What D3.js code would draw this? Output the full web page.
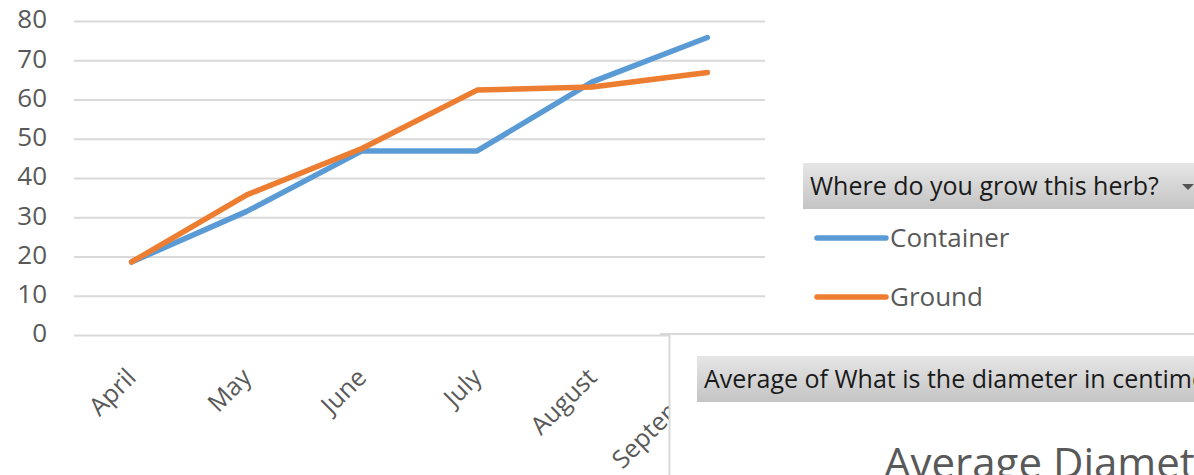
<!DOCTYPE html>
<html>
<head>
<meta charset="utf-8">
<script src="https://cdn.jsdelivr.net/npm/d3@7"></script>
<style>
  body { margin: 0; background: #fff; overflow: hidden; }
  svg { display: block; font-family: "Open Sans", sans-serif; }
</style>
</head>
<body>
<div id="container"></div>
<script>
const months = ["April", "May", "June", "July", "August", "September"];
const container = [18.6, 31.5, 46.9, 46.9, 64.5, 75.8];
const ground = [18.6, 35.7, 47.5, 62.4, 63.2, 66.9];
const yTicks = [0, 10, 20, 30, 40, 50, 60, 70, 80];
const seriesNames = ["Container", "Ground"];
const colors = ["#5b9bd5", "#ed7d31"];

const width = 1194, height = 475;
const svg = d3.select('#container').append('svg')
  .attr('width', width)
  .attr('height', height);

const x = d3.scalePoint().domain(months).range([74, 765]).padding(0.5);
const y = d3.scaleLinear().domain([0, 80]).range([335, 21]);

// gridlines
const grid = svg.append('g')
  .attr('transform', 'translate(74,0)')
  .call(d3.axisLeft(y).tickValues(yTicks).tickSize(-691).tickFormat(''));
grid.select('.domain').remove();
grid.selectAll('line').attr('stroke', '#d9d9d9').attr('stroke-width', 2);

// y labels
svg.append('g').selectAll('text')
  .data(yTicks)
  .join('text')
  .attr('x', 47)
  .attr('y', d => y(d))
  .attr('dy', '0.28em')
  .attr('text-anchor', 'end')
  .attr('fill', '#595959')
  .attr('font-size', 26)
  .text(d => d);

// x labels, rotated
svg.append('g').selectAll('text')
  .data(months)
  .join('text')
  .attr('transform', d => `translate(${x(d) + 6},379) rotate(-45)`)
  .attr('text-anchor', 'end')
  .attr('fill', '#595959')
  .attr('font-size', 25)
  .text(d => d);

// lines
const line = d3.line().x((d, i) => x(months[i])).y(d => y(d));
[container, ground].forEach((s, i) => {
  svg.append('path')
    .datum(s)
    .attr('d', line)
    .attr('fill', 'none')
    .attr('stroke', colors[i])
    .attr('stroke-width', 5.5)
    .attr('stroke-linejoin', 'round')
    .attr('stroke-linecap', 'round');
});

// legend
const defs = svg.append('defs');
const grad = defs.append('linearGradient').attr('id', 'btn').attr('x1', 0).attr('y1', 0).attr('x2', 0).attr('y2', 1);
grad.append('stop').attr('offset', '0%').attr('stop-color', '#e6e6e6');
grad.append('stop').attr('offset', '100%').attr('stop-color', '#c4c4c4');

svg.append('rect')
  .attr('x', 803).attr('y', 163).attr('width', 400).attr('height', 46)
  .attr('fill', 'url(#btn)');
svg.append('text')
  .attr('x', 810).attr('y', 195)
  .attr('font-size', 25).attr('fill', '#1a1a1a')
  .text('Where do you grow this herb?');
svg.append('path')
  .attr('d', 'M1182,184 L1194,184 L1188,190 Z')
  .attr('fill', '#555');

const legend = svg.append('g').selectAll('g')
  .data(seriesNames)
  .join('g')
  .attr('transform', (d, i) => `translate(0,${238 + i * 59})`);
legend.append('line')
  .attr('x1', 817).attr('x2', 886)
  .attr('stroke', (d, i) => colors[i])
  .attr('stroke-width', 5.5)
  .attr('stroke-linecap', 'round');
legend.append('text')
  .attr('x', 890).attr('y', 9)
  .attr('font-size', 26).attr('fill', '#595959')
  .text(d => d);

// second pivot panel overlapping bottom right
const panel = svg.append('g');
panel.append('rect')
  .attr('x', 669).attr('y', 334).attr('width', 540).attr('height', 150)
  .attr('fill', '#fff');
panel.append('line')
  .attr('x1', 660).attr('x2', width).attr('y1', 334).attr('y2', 334)
  .attr('stroke', '#d9d9d9').attr('stroke-width', 2);
panel.append('line')
  .attr('x1', 669.5).attr('x2', 669.5).attr('y1', 334).attr('y2', height)
  .attr('stroke', '#d9d9d9').attr('stroke-width', 2);
panel.append('rect')
  .attr('x', 697).attr('y', 356).attr('width', 520).attr('height', 46)
  .attr('fill', 'url(#btn)');
panel.append('text')
  .attr('x', 704).attr('y', 388)
  .attr('font-size', 25).attr('fill', '#1a1a1a')
  .text('Average of What is the diameter in centimeters?');
panel.append('text')
  .attr('x', 884).attr('y', 478)
  .attr('font-size', 42).attr('fill', '#595959')
  .text('Average Diameter');
</script>
</body>
</html>
